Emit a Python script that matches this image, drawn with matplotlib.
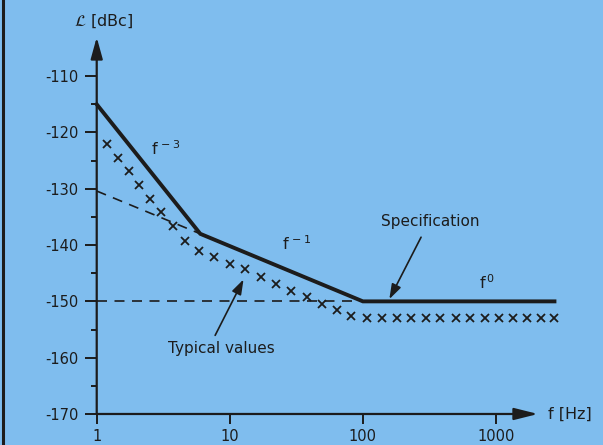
import matplotlib
matplotlib.use("Agg")
import matplotlib.pyplot as plt
from matplotlib.lines import Line2D
from matplotlib.ticker import FixedLocator, NullLocator

plt.rcParams['font.family'] = ['DejaVu Sans']
plt.rcParams['mathtext.default'] = 'regular'

# Specification (solid), piecewise f^-3, f^-1, f^0
spec_f = [1, 6, 100, 2750]
spec_db = [-115, -138, -150, -150]

# dashed helper lines
ext_f = [1, 6]
ext_db = [-130.4, -138]
floor_f = [1, 100]
floor_db = [-150, -150]

# typical measured values (x marks)
typ_f = [1.19, 1.45, 1.75, 2.08, 2.53, 3.03, 3.74, 4.61, 5.82, 7.61,
         9.95, 13.0, 17.3, 22.4, 29.0, 38.0, 49.0, 63.9, 81.7, 107,
         138, 179, 231, 300, 382, 498, 642, 823, 1059, 1349,
         1718, 2168, 2729]
typ_db = [-122.0, -124.5, -126.9, -129.4, -131.8, -134.2, -136.6, -139.2, -141.0, -142.1,
          -143.3, -144.3, -145.7, -147.0, -148.2, -149.3, -150.4, -151.5, -152.6, -153.0,
          -153.0, -153.0, -153.0, -153.0, -153.0, -153.0, -153.0, -153.0, -153.0, -153.0,
          -153.0, -153.0, -153.0]

yticks = [-170, -160, -150, -140, -130, -120, -110]
yminor = [-165, -155, -145, -135, -125, -115]
xticks = [1, 10, 100, 1000]
xlabels = ["1", "10", "100", "1000"]

bg = '#7fbdee'
ink = '#1c1c1c'

fig = plt.figure(figsize=(6.03, 4.45), dpi=100, facecolor=bg)
ax = fig.add_axes([0.1604, 0.0697, 0.7683, 0.8629])
ax.set_facecolor(bg)
ax.set_xscale('log')
ax.set_xlim(1, 3027)
ax.set_ylim(-170, -101.8)
for s in ax.spines.values():
    s.set_visible(False)

# axes with arrow heads
ax.annotate('', xy=(1, -103.1), xytext=(1, -170),
            arrowprops=dict(arrowstyle='-|>,head_length=1.3,head_width=0.36',
                            mutation_scale=10, lw=1.6, color=ink,
                            shrinkA=0, shrinkB=0),
            annotation_clip=False)
ax.annotate('', xy=(2069, -170), xytext=(1, -170),
            arrowprops=dict(arrowstyle='-|>,head_length=1.44,head_width=0.36',
                            mutation_scale=10, lw=1.6, color=ink,
                            shrinkA=0, shrinkB=0),
            annotation_clip=False)

ax.yaxis.set_major_locator(FixedLocator(yticks))
ax.yaxis.set_minor_locator(FixedLocator(yminor))
ax.set_yticklabels(["-%d" % abs(v) for v in yticks])
ax.xaxis.set_major_locator(FixedLocator(xticks))
ax.xaxis.set_minor_locator(NullLocator())
ax.set_xticklabels(xlabels)
ax.tick_params(axis='y', which='major', direction='out', length=9, width=1.4,
               color=ink, labelcolor=ink, labelsize=10.5, pad=4)
ax.tick_params(axis='y', which='minor', direction='out', length=4.5, width=1.4, color=ink)
ax.tick_params(axis='x', which='major', direction='out', length=7, width=1.4,
               color=ink, labelcolor=ink, labelsize=10.5, pad=4)

# curves
ax.plot(floor_f, floor_db, color=ink, lw=1.2, dashes=(6, 4.5))
ax.plot(ext_f, ext_db, color=ink, lw=1.2, dashes=(6, 4.5))
ax.plot(spec_f, spec_db, color=ink, lw=2.8, solid_joinstyle='miter', clip_on=False)
ax.plot(typ_f, typ_db, ls='none', marker='x', ms=6, mew=1.3, color=ink, clip_on=False)

# labels
ax.text(1.135, -100.2, r'$\mathcal{L}$ [dBc]', ha='center', va='center', fontsize=11.5, color=ink)
ax.text(2459, -170, 'f [Hz]', ha='left', va='center', fontsize=11.5, color=ink)
ax.text(2.55, -122.8, 'f$^{\\,-3}$', fontsize=11.5, color=ink, va='center')
ax.text(24.5, -139.8, 'f$^{\\,-1}$', fontsize=11.5, color=ink, va='center')
ax.text(745, -146.6, 'f$^{\\,0}$', fontsize=11.5, color=ink, va='center')

ax.annotate('Specification', xy=(158, -149.6), xytext=(319, -135.9),
            ha='center', va='center', fontsize=11, color=ink,
            arrowprops=dict(arrowstyle='-|>,head_length=0.9,head_width=0.3',
                            mutation_scale=10, lw=1.2, color=ink,
                            relpos=(0.45, 0.0), shrinkA=4, shrinkB=0))
ax.annotate('Typical values', xy=(12.68, -146.1), xytext=(8.59, -158.3),
            ha='center', va='center', fontsize=11, color=ink,
            arrowprops=dict(arrowstyle='-|>,head_length=0.9,head_width=0.3',
                            mutation_scale=10, lw=1.2, color=ink,
                            relpos=(0.42, 1.0), shrinkA=2, shrinkB=0))

# dark strip at the left edge
fig.add_artist(Line2D([3 / 603, 3 / 603], [0, 1], color=ink, lw=2.2))

fig.savefig('out.png', dpi=100, facecolor=bg)
